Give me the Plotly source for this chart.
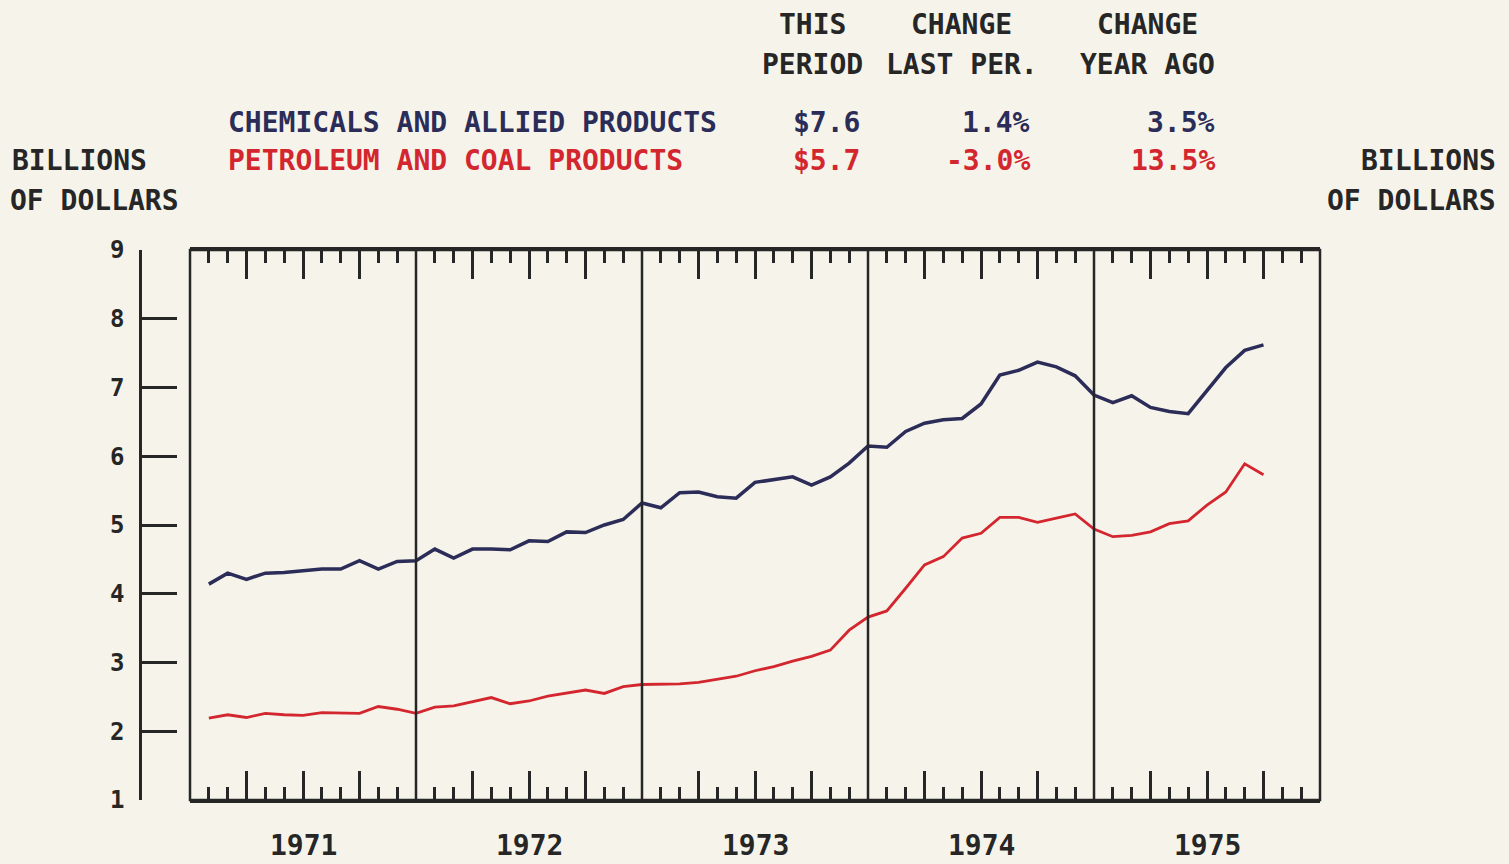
import plotly.graph_objects as go

# ---------------- data ----------------
years = [1971, 1972, 1973, 1974, 1975]
# month index: 1 = Jan 1971 ... 57 = Sep 1975 (value plotted at end of month)
month_index = list(range(1, 58))

chem = [
    4.14, 4.30, 4.21, 4.30, 4.31, 4.34, 4.36, 4.36, 4.48, 4.36, 4.47, 4.48,   # 1971
    4.65, 4.52, 4.65, 4.65, 4.64, 4.77, 4.76, 4.90, 4.89, 5.00, 5.08, 5.32,   # 1972
    5.25, 5.47, 5.48, 5.41, 5.39, 5.62, 5.66, 5.70, 5.58, 5.70, 5.90, 6.15,   # 1973
    6.13, 6.36, 6.48, 6.53, 6.55, 6.76, 7.18, 7.25, 7.37, 7.30, 7.17, 6.89,   # 1974
    6.78, 6.88, 6.71, 6.65, 6.62, 6.96, 7.29, 7.54, 7.62,                     # 1975
]
petro = [
    2.19, 2.24, 2.20, 2.26, 2.24, 2.23, 2.27, 2.26, 2.26, 2.36, 2.32, 2.26,   # 1971
    2.35, 2.37, 2.43, 2.49, 2.40, 2.44, 2.51, 2.56, 2.60, 2.55, 2.65, 2.68,   # 1972
    2.68, 2.69, 2.71, 2.75, 2.80, 2.88, 2.94, 3.02, 3.09, 3.18, 3.47, 3.66,   # 1973
    3.75, 4.08, 4.42, 4.54, 4.81, 4.88, 5.11, 5.11, 5.04, 5.10, 5.16, 4.94,   # 1974
    4.83, 4.85, 4.90, 5.02, 5.06, 5.29, 5.48, 5.89, 5.73,                     # 1975
]
series_names = ["CHEMICALS AND ALLIED PRODUCTS", "PETROLEUM AND COAL PRODUCTS"]
this_period = ["$7.6", "$5.7"]
change_last = ["1.4%", "-3.0%"]
change_year = ["3.5%", "13.5%"]
y_ticks = [1, 2, 3, 4, 5, 6, 7, 8, 9]

# ---------------- style ----------------
BG = "#f6f4ea"
INK = "#262626"
NAVY = "#2c2c58"
RED = "#d3262f"
FONT = "DejaVu Sans Mono"

W, H = 1509, 864
ML, MR, MT, MB = 100, 100, 250, 64
PW, PH = W - ML - MR, H - MT - MB


def px(x):
    return (x - ML) / PW


def py(y):
    return (H - MB - y) / PH


fig = go.Figure()
fig.add_trace(go.Scatter(x=month_index, y=chem, mode="lines",
                         line=dict(color=NAVY, width=3.5), name=series_names[0]))
fig.add_trace(go.Scatter(x=month_index, y=petro, mode="lines",
                         line=dict(color=RED, width=2.8), name=series_names[1]))

n_months = 12 * len(years)
quarter = [m for m in range(1, n_months) if m % 3 == 0 and m % 12 != 0]
monthly = [m for m in range(1, n_months) if m % 3 != 0]
year_bounds = [12 * i for i in range(1, len(years))]
year_mid = [12 * i + 6 for i in range(len(years))]

tickfont = dict(family=FONT, size=24, color=INK, weight="bold")

fig.update_layout(
    width=W, height=H,
    margin=dict(l=ML, r=MR, t=MT, b=MB),
    paper_bgcolor=BG, plot_bgcolor=BG,
    showlegend=False,
    xaxis=dict(domain=[px(190), px(1320)], range=[0, n_months],
               tickmode="array", tickvals=quarter, ticks="inside", ticklen=29,
               tickwidth=2.5, tickcolor=INK, showticklabels=False,
               showgrid=False, zeroline=False, showline=True, linecolor=INK,
               linewidth=2.5, mirror="ticks",
               minor=dict(tickmode="array", tickvals=monthly, ticks="inside",
                          ticklen=13, tickwidth=2.5, tickcolor=INK, showgrid=False)),
    yaxis=dict(domain=[0, 1], range=[1, 9], anchor="free", position=px(140),
               side="left", tickmode="array", tickvals=y_ticks, ticks="inside",
               ticklen=35, tickwidth=2.5, tickcolor=INK, showline=True,
               linecolor=INK, linewidth=2.5, showgrid=False, zeroline=False,
               tickfont=tickfont, ticklabelstandoff=10),
    yaxis2=dict(overlaying="y", range=[1, 9], anchor="free", position=px(1368),
                side="right", tickmode="array", tickvals=y_ticks, ticks="inside",
                ticklen=33, tickwidth=2.5, tickcolor=INK, showline=True,
                linecolor=INK, linewidth=2.5, showgrid=False, zeroline=False,
                tickfont=tickfont, ticklabelstandoff=10),
)

# plot frame
fig.add_shape(type="rect", xref="x domain", yref="y domain", x0=0, x1=1, y0=0, y1=1,
              line=dict(color=INK, width=2.5), layer="above")

# year boundary lines
for xb in year_bounds:
    fig.add_shape(type="line", xref="x", yref="y domain", x0=xb, x1=xb, y0=0, y1=1,
                  line=dict(color=INK, width=2.5), layer="above")

# year labels
for xm, yr in zip(year_mid, years):
    fig.add_annotation(text=str(yr), x=xm, xref="x", y=py(845), yref="paper",
                       xanchor="center", yanchor="middle", showarrow=False,
                       font=dict(family=FONT, size=28, color=INK, weight="bold"))

HF = 28


def text(t, x, y, color=INK, xanchor="center", size=HF):
    fig.add_annotation(text=t, x=px(x), y=py(y), xref="paper", yref="paper",
                       xanchor=xanchor, yanchor="middle", showarrow=False,
                       font=dict(family=FONT, size=size, color=color, weight="bold"))


# column headers
text("THIS", 812, 24)
text("PERIOD", 812, 64)
text("CHANGE", 962, 24)
text("LAST PER.", 962, 64)
text("CHANGE", 1147, 24)
text("YEAR AGO", 1147, 64)

row_y = [122, 161]
row_col = [NAVY, RED]
for i in range(2):
    text(series_names[i], 226, row_y[i], row_col[i], "left")
    text(this_period[i], 862, row_y[i], row_col[i], "right")
    text(change_last[i], 1032, row_y[i], row_col[i], "right")
    text(change_year[i], 1217, row_y[i], row_col[i], "right")

# axis titles
text("BILLIONS", 10, 161, INK, "left")
text("OF DOLLARS", 8, 200, INK, "left")
text("BILLIONS", 1498, 161, INK, "right")
text("OF DOLLARS", 1498, 200, INK, "right")

fig.write_html("out.html", config={"displayModeBar": False},
               post_script="document.body.style.margin='0';")
